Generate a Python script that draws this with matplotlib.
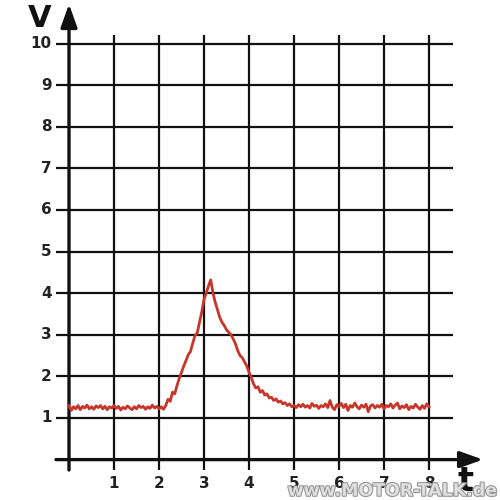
import numpy as np
import matplotlib
matplotlib.use('Agg')
import matplotlib.pyplot as plt
import matplotlib.patheffects as pe

# Spannungsverlauf, Abtastung alle 0.05 s
v = [
    1.30, 1.18, 1.27, 1.22, 1.30, 1.20, 1.28, 1.24, 1.31, 1.22,
    1.27, 1.21, 1.29, 1.25, 1.30, 1.22, 1.28, 1.20, 1.27, 1.24,
    1.30, 1.23, 1.28, 1.19, 1.26, 1.22, 1.29, 1.24, 1.20, 1.27,
    1.22, 1.30, 1.25, 1.28, 1.21, 1.27, 1.23, 1.31, 1.24, 1.28,
    1.22, 1.27, 1.21,
    # Anstieg
    1.30, 1.45, 1.40, 1.62, 1.58, 1.78, 1.95, 2.10, 2.25, 2.38,
    2.52, 2.60, 2.80, 2.98, 3.05, 3.30, 3.55, 3.85, 4.00, 4.18, 4.32,
    # Abfall
    4.00, 3.78, 3.60, 3.42, 3.30, 3.22, 3.12, 3.06, 3.00, 2.90,
    2.78, 2.62, 2.50, 2.45, 2.35, 2.25, 2.10, 1.98, 1.82, 1.72,
    1.75, 1.62, 1.66, 1.55, 1.58, 1.48, 1.50, 1.42, 1.46, 1.38,
    1.41, 1.34, 1.37, 1.30, 1.34, 1.27, 1.30,
    # Ruhepegel
    1.25, 1.32, 1.27, 1.33, 1.26, 1.30, 1.24, 1.35, 1.28, 1.31,
    1.23, 1.30, 1.27, 1.34, 1.25, 1.42, 1.26, 1.20, 1.32, 1.28,
    1.35, 1.25, 1.33, 1.18, 1.30, 1.26, 1.36, 1.27, 1.22, 1.31,
    1.26, 1.33, 1.15, 1.29, 1.32, 1.24, 1.30, 1.26, 1.33, 1.22,
    1.30, 1.27, 1.34, 1.24, 1.31, 1.36, 1.22, 1.29, 1.25, 1.32,
    1.20, 1.28, 1.24, 1.33, 1.26, 1.21, 1.30, 1.23, 1.34, 1.27,
]
dt = 0.05
t = np.arange(len(v)) * dt

x_ticks = [1, 2, 3, 4, 5, 6, 7, 8]
y_ticks = [1, 2, 3, 4, 5, 6, 7, 8, 9, 10]

fig = plt.figure(figsize=(5, 5), dpi=100)
ax = fig.add_axes([0, 0, 1, 1])
ax.set_xlim(-69 / 45, 431 / 45)
ax.set_ylim(-40.4 / 41.6, 459.6 / 41.6)
ax.axis('off')

# Gitter
ax.hlines(y_ticks, -0.29, 8.53, color='#111111', lw=1.6, zorder=1)
ax.vlines(x_ticks, -0.25, 10.2, color='#111111', lw=1.6, zorder=1)

# Achsen mit Pfeilen
ax.annotate('', xy=(0, 10.95), xytext=(0, -0.25),
            arrowprops=dict(arrowstyle='-|>,head_length=1.4,head_width=0.5',
                            lw=2.4, color='#111111', shrinkA=0, shrinkB=0), zorder=2)
ax.annotate('', xy=(9.2, 0), xytext=(-0.29, 0),
            arrowprops=dict(arrowstyle='-|>,head_length=1.4,head_width=0.5',
                            lw=2.4, color='#111111', shrinkA=0, shrinkB=0), zorder=2)

# Messkurve
ax.plot(t, v, color='#c8352b', lw=2.0, zorder=3)

# Beschriftung
for y in y_ticks:
    ax.text(-0.38, y, str(y), ha='right', va='center', fontsize=11,
            fontweight='bold', color='#222222')
for x in x_ticks:
    ax.text(x, -0.58, str(x), ha='center', va='center', fontsize=11,
            fontweight='bold', color='#222222')
ax.text(-0.65, 10.6, 'V', ha='center', va='center', fontsize=22,
        fontweight='bold', color='#111111')
ax.text(8.8, -0.53, 't', ha='center', va='center', fontsize=24,
        fontweight='bold', color='#111111')

# Wasserzeichen
ax.text(9.52, -0.75, 'www.MOTOR-TALK.de', ha='right', va='center',
        fontsize=12.5, fontweight='bold', color='#e4e4e4', alpha=0.9,
        path_effects=[pe.withStroke(linewidth=1.5, foreground='#8a8a8a')],
        zorder=5)

fig.savefig('out.png', dpi=100)
